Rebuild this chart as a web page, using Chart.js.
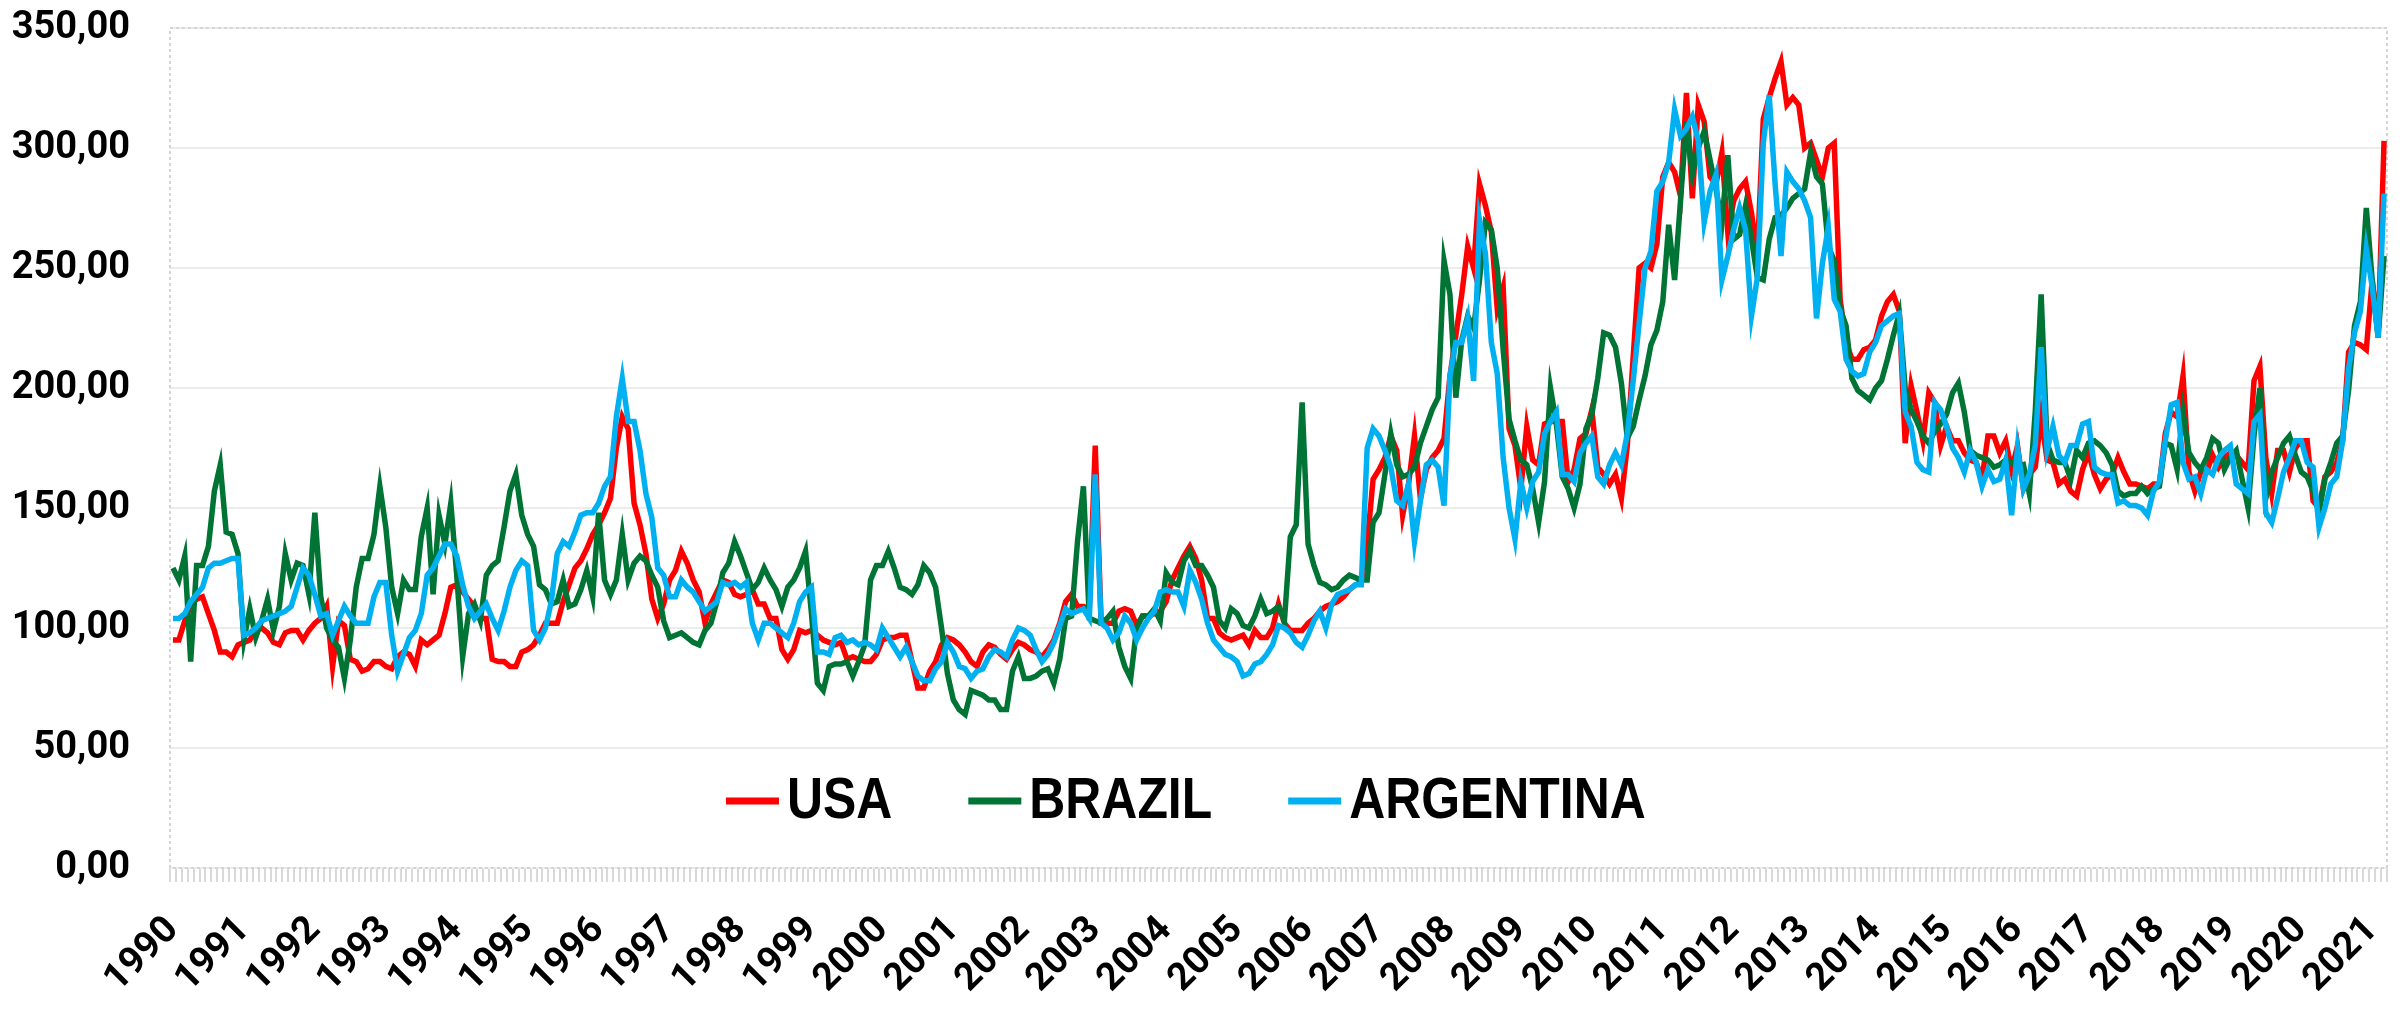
<!DOCTYPE html>
<html>
<head>
<meta charset="utf-8">
<title>USA / BRAZIL / ARGENTINA</title>
<script src="https://cdn.jsdelivr.net/npm/chart.js@4"></script>
<style>
  body { margin: 0; background: #fff; }
  #wrap { width: 2408px; height: 1009px; position: relative; }
</style>
</head>
<body>
<div id="wrap"><canvas id="chart"></canvas></div>
<script>
// one label per year, the first month of each year carries it
const yearLabels = ['1990', '1991', '1992', '1993', '1994', '1995', '1996', '1997', '1998', '1999',
  '2000', '2001', '2002', '2003', '2004', '2005', '2006', '2007', '2008', '2009', '2010',
  '2011', '2012', '2013', '2014', '2015', '2016', '2017', '2018', '2019', '2020', '2021'];

// monthly values, Jan 1990 .. Mar 2021
const usa = [
  95, 95, 103, 110, 112, 113, 106, 99, 90, 90, 88, 93,
  94, 95, 99, 100, 98, 94, 93, 98, 99, 99, 95, 99,
  102, 104, 109, 84, 103, 101, 87, 86, 82, 83, 86, 86,
  84, 83, 88, 90, 89, 84, 95, 93, 95, 97, 106, 117,
  118, 115, 112, 109, 104, 104, 87, 86, 86, 84, 84, 90,
  91, 93, 97, 102, 102, 102, 111, 118, 125, 128, 133, 139,
  143, 148, 154, 175, 188, 183, 152, 143, 131, 112, 104, 110,
  120, 124, 132, 127, 120, 115, 102, 110, 115, 120, 119, 114,
  113, 114, 116, 110, 110, 104, 104, 91, 87, 91, 99, 98,
  99, 97, 95, 94, 93, 94, 87, 88, 87, 86, 86, 89,
  95, 96, 96, 97, 97, 86, 75, 75, 82, 86, 93, 96,
  95, 93, 90, 86, 84, 90, 93, 92, 89, 87, 91, 94,
  93, 91, 90, 88, 91, 95, 102, 111, 114, 109, 109, 108,
  176, 102, 102, 102, 107, 108, 107, 101, 105, 105, 106, 107,
  111, 120, 125, 130, 134, 129, 120, 104, 104, 98, 96, 95,
  96, 97, 93, 99, 96, 96, 100, 110, 102, 99, 99, 99,
  102, 104, 107, 109, 110, 111, 113, 116, 118, 119, 135, 162,
  166, 171, 180, 174, 147, 160, 180, 154, 166, 171, 174, 179,
  205, 222, 239, 259, 250, 285, 276, 265, 233, 242, 183, 176,
  158, 184, 170, 168, 185, 186, 186, 186, 161, 166, 179, 181,
  191, 167, 164, 160, 164, 154, 176, 213, 250, 252, 250, 260,
  288, 294, 290, 280, 323, 279, 318, 311, 288, 285, 298, 265,
  278, 283, 286, 273, 256, 312, 321, 329, 336, 318, 321, 318,
  300, 302, 295, 288, 300, 302, 237, 219, 212, 212, 216, 217,
  220, 230, 236, 239, 232, 177, 201, 190, 178, 198, 194, 176,
  184, 178, 178, 173, 170, 169, 162, 180, 180, 173, 178, 166,
  176, 158, 164, 167, 188, 170, 169, 160, 162, 157, 155, 166,
  173, 164, 158, 162, 164, 171, 165, 160, 160, 159, 158, 160,
  160, 181, 190, 188, 205, 165, 157, 165, 165, 172, 167, 171,
  173, 172, 169, 166, 203, 209, 171, 156, 174, 174, 165, 175,
  178, 178, 153, 150, 163, 165, 169, 178, 215, 219, 218, 216,
  245, 222, 303
];

const brazil = [
  125, 120, 130, 86, 126, 126, 134, 157, 168, 140, 139, 131,
  95, 108, 96, 103, 112, 99, 109, 131, 120, 127, 126, 114,
  148, 113, 100, 95, 92, 79, 95, 117, 129, 129, 139, 159,
  142, 117, 106, 120, 116, 116, 138, 150, 114, 147, 135, 152,
  122, 88, 106, 110, 103, 122, 126, 128, 142, 157, 164, 147,
  139, 134, 118, 116, 110, 111, 120, 109, 110, 116, 124, 113,
  148, 120, 114, 120, 139, 120, 127, 130, 128, 122, 117, 103,
  96, 97, 98, 96, 94, 93, 99, 102, 111, 123, 127, 136,
  130, 123, 116, 119, 125, 120, 116, 109, 117, 120, 125, 132,
  106, 77, 74, 84, 85, 85, 86, 80, 86, 93, 120, 126,
  126, 132, 125, 117, 116, 114, 118, 126, 123, 117, 100, 81,
  70, 66, 64, 74, 73, 72, 70, 70, 66, 66, 82, 88,
  79, 79, 80, 82, 83, 77, 87, 104, 105, 136, 159, 104,
  103, 102, 104, 107, 92, 84, 79, 100, 105, 105, 108, 103,
  123, 119, 118, 128, 132, 126, 126, 122, 117, 103, 100, 108,
  106, 101, 100, 105, 112, 106, 107, 109, 103, 138, 143, 194,
  135, 126, 119, 118, 116, 117, 120, 122, 121, 120, 120, 144,
  148, 164, 181, 168, 163, 164, 167, 177, 184, 191, 196, 253,
  239, 196, 220, 230, 225, 245, 269, 266, 250, 216, 187, 178,
  170, 168, 158, 144, 161, 200, 185, 163, 158, 150, 160, 183,
  189, 204, 223, 222, 217, 202, 179, 184, 195, 205, 218, 224,
  236, 268, 245, 278, 311, 289, 300, 307, 295, 283, 269, 297,
  262, 264, 276, 262, 246, 245, 262, 271, 272, 275, 279, 281,
  283, 298, 288, 285, 259, 253, 233, 226, 204, 199, 197, 195,
  200, 203, 212, 222, 231, 200, 191, 186, 180, 177, 182, 185,
  189, 198, 202, 190, 174, 172, 171, 170, 167, 168, 170, 169,
  167, 168, 156, 190, 239, 177, 170, 169, 169, 162, 174, 171,
  177, 178, 176, 173, 168, 157, 155, 156, 156, 159, 156, 158,
  159, 177, 176, 166, 190, 173, 169, 166, 171, 179, 177, 166,
  171, 174, 162, 150, 180, 200, 154, 165, 171, 177, 180, 172,
  165, 163, 157, 148, 162, 169, 177, 180, 199, 226, 236, 275,
  245, 221, 255
];

const argentina = [
  104, 104, 106, 111, 114, 117, 125, 127, 127, 128, 129, 129,
  97, 98, 100, 103, 104, 105, 106, 107, 109, 117, 125, 122,
  114, 105, 106, 97, 103, 109, 105, 102, 102, 102, 113, 119,
  119, 97, 82, 89, 96, 99, 106, 122, 125, 130, 135, 135,
  130, 118, 109, 104, 107, 110, 104, 99, 107, 117, 124, 128,
  126, 99, 95, 100, 111, 131, 136, 134, 140, 147, 148, 148,
  152, 159, 163, 188, 204, 186, 186, 174, 156, 146, 125, 122,
  113, 113, 120, 117, 115, 111, 107, 109, 111, 119, 118, 119,
  117, 119, 102, 95, 102, 102, 100, 98, 96, 102, 111, 115,
  117, 90, 90, 89, 96, 97, 94, 95, 93, 94, 93, 91,
  100, 96, 92, 88, 92, 86, 80, 78, 78, 83, 86, 94,
  90, 84, 83, 79, 82, 83, 88, 91, 90, 88, 95, 100,
  99, 97, 91, 86, 89, 94, 101, 108, 106, 107, 108, 104,
  164, 102, 100, 95, 98, 105, 102, 95, 100, 104, 107, 115,
  116, 115, 115, 109, 124, 119, 112, 102, 95, 92, 89, 88,
  86, 80, 81, 85, 86, 89, 93, 101, 100, 98, 94, 92,
  97, 103, 107, 100, 110, 114, 115, 116, 118, 118, 175, 183,
  180, 174, 167, 153, 151, 160, 136, 153, 168, 170, 167, 151,
  205, 219, 219, 229, 203, 270, 256, 219, 206, 171, 150, 137,
  161, 150, 161, 165, 181, 186, 190, 164, 164, 161, 173, 177,
  180, 163, 160, 168, 173, 168, 181, 203, 227, 250, 257, 282,
  286, 294, 316, 305, 308, 313, 303, 269, 282, 289, 245, 255,
  266, 275, 266, 230, 246, 302, 322, 285, 255, 290, 286, 283,
  278, 271, 229, 252, 267, 237, 232, 212, 207, 205, 206, 215,
  219, 226, 228, 230, 231, 190, 184, 169, 166, 165, 194, 191,
  184, 175, 171, 165, 174, 169, 159, 166, 161, 162, 170, 147,
  175, 158, 164, 176, 217, 174, 184, 172, 169, 176, 176, 185,
  186, 167, 165, 164, 164, 152, 153, 151, 151, 150, 147, 157,
  161, 178, 193, 194, 169, 162, 163, 156, 166, 164, 171, 174,
  176, 160, 158, 156, 186, 189, 148, 144, 154, 165, 171, 178,
  178, 169, 167, 142, 150, 160, 163, 178, 208, 223, 232, 258,
  242, 221, 281
];

// month categories built from the years, as many as there are values
const months = [];
yearLabels.forEach(y => {
  for (let m = 1; m <= 12; m++) {
    if (months.length < usa.length) months.push(y + '-' + String(m).padStart(2, '0'));
  }
});

const tickFont = { family: 'Roboto', weight: 'bold', size: 38 };

// dashed frame round the plot area
const framePlugin = {
  id: 'frame',
  beforeDatasetsDraw(chart) {
    const { ctx, chartArea: a } = chart;
    ctx.save();
    ctx.strokeStyle = '#d4d4d4';
    ctx.lineWidth = 2;
    ctx.setLineDash([3, 3]);
    ctx.strokeRect(a.left, a.top, a.right - a.left, a.bottom - a.top);
    ctx.restore();
  }
};

// legend sitting inside the plot, near the bottom (narrow bold text)
const insideLegend = {
  id: 'insideLegend',
  afterDatasetsDraw(chart) {
    const { ctx, chartArea: a } = chart;
    const squeeze = 0.86;
    let x = a.left + 556;
    const lineY = a.bottom - 67;
    const textY = a.bottom - 50;
    ctx.save();
    ctx.font = 'bold 58px "Liberation Sans", Arial, sans-serif';
    ctx.textBaseline = 'alphabetic';
    chart.data.datasets.forEach(ds => {
      ctx.strokeStyle = ds.borderColor;
      ctx.lineWidth = 7;
      ctx.lineCap = 'butt';
      ctx.beginPath();
      ctx.moveTo(x, lineY);
      ctx.lineTo(x + 53, lineY);
      ctx.stroke();
      x += 61;
      const w = ctx.measureText(ds.label).width * squeeze;
      ctx.save();
      ctx.translate(x, textY);
      ctx.scale(squeeze, 1);
      ctx.fillStyle = '#000';
      ctx.fillText(ds.label, 0, 0);
      ctx.restore();
      x += w + 76;
    });
    ctx.restore();
  }
};

new Chart(document.getElementById('chart'), {
  type: 'line',
  data: {
    labels: months,
    datasets: [
      { label: 'USA', data: usa, borderColor: '#ff0000', order: 3 },
      { label: 'BRAZIL', data: brazil, borderColor: '#007434', order: 2 },
      { label: 'ARGENTINA', data: argentina, borderColor: '#00b0f0', order: 1 }
    ]
  },
  options: {
    responsive: true,
    maintainAspectRatio: false,
    animation: false,
    devicePixelRatio: 1,
    layout: { padding: { top: 28, right: 21, left: 0, bottom: 0 } },
    elements: {
      point: { radius: 0 },
      line: { borderWidth: 5.5, tension: 0, fill: false }
    },
    plugins: {
      legend: { display: false },
      tooltip: { enabled: false }
    },
    scales: {
      x: {
        offset: true,
        grid: { offset: true, drawOnChartArea: false, color: '#d9d9d9', lineWidth: 2, tickLength: 14 },
        border: { display: false },
        ticks: {
          autoSkip: false,
          minRotation: 45,
          maxRotation: 45,
          padding: 26,
          color: '#000',
          font: tickFont,
          callback: (v, i) => (i % 12 === 0 ? yearLabels[i / 12] : '')
        },
        afterFit: s => {
          s.height = 141;
          s.paddingLeft = 0;
          s.paddingRight = 0;
        }
      },
      y: {
        min: 0,
        max: 350,
        grid: { color: '#ececec', lineWidth: 2, drawTicks: false },
        border: { display: false },
        ticks: {
          stepSize: 50,
          padding: 40,
          color: '#000',
          font: tickFont,
          callback: v => v.toFixed(2).replace('.', ',')
        },
        afterFit: s => {
          s.width = 170;
          s.paddingTop = 0;
          s.paddingBottom = 0;
        }
      }
    }
  },
  plugins: [framePlugin, insideLegend]
});
</script>
</body>
</html>
